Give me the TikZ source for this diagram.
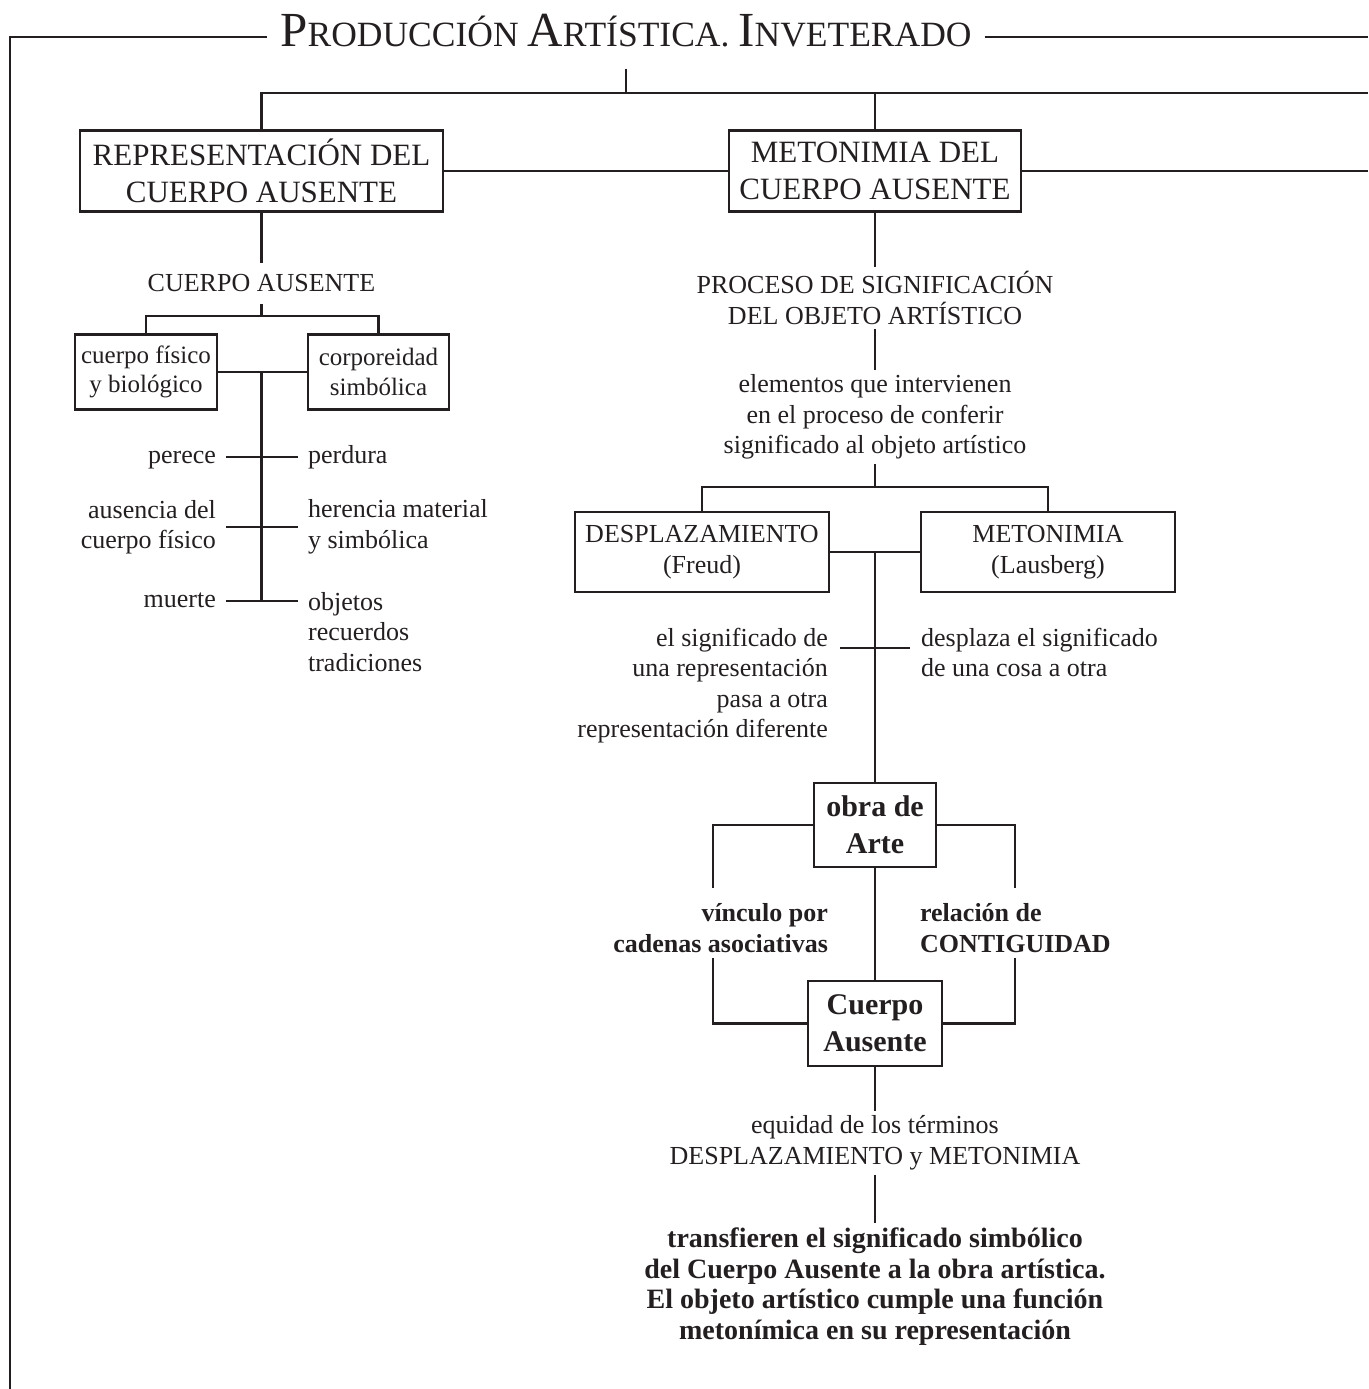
\documentclass[tikz,border=0pt]{standalone}
\usepackage{fontspec}
\setmainfont{Liberation Serif}
\usepackage{tikz}
\definecolor{ink}{RGB}{35,31,32}
\newcommand{\capa}[1]{{\fontsize{49}{49}\selectfont #1}}

\begin{document}
\begin{tikzpicture}[x=1pt,y=-1pt,line width=2.2pt,color=ink,
 box/.style={rectangle,draw,align=center,inner sep=0pt,font=\fontsize{26}{30.5}\selectfont},
 smallbox/.style={box,font=\fontsize{25}{29.5}\selectfont},
 bigbox/.style={box,font=\fontsize{31}{37}\selectfont},
 artbox/.style={box,font=\fontsize{30}{37}\selectfont\bfseries},
 txt/.style={align=center,font=\fontsize{26}{30.5}\selectfont},
 lbl/.style={inner xsep=9pt,inner ysep=0pt,font=\fontsize{26}{30.5}\selectfont},
 onelbl/.style={lbl,text height=12pt,text depth=0pt},
 blbl/.style={inner sep=0pt,font=\fontsize{26}{30.5}\selectfont\bfseries}]
\useasboundingbox (0,0) rectangle (1368,1389);
 \node[anchor=base,inner xsep=12pt,inner ysep=20pt,font=\fontsize{35.5}{35.5}\selectfont] (title) at (626,47) {\capa{P}RODUCCIÓN \capa{A}RTÍSTICA. \capa{I}NVETERADO};
 \coordinate (tl) at (10,37);
 \coordinate (bl) at (10,1389);
 \coordinate (tr) at (1368,37);
 \coordinate (hr) at (1368,93);
 \coordinate (mr) at (1368,171);

 \node[bigbox,minimum width=363pt,minimum height=81pt] (repr) at (261.5,171) {REPRESENTACIÓN DEL\\CUERPO AUSENTE};
 \node[bigbox,minimum width=292pt,minimum height=81pt] (meto) at (875,171) {METONIMIA DEL\\CUERPO AUSENTE};

 \node[txt,inner ysep=11pt] (ca) at (261.5,283.5) {CUERPO AUSENTE};
 \coordinate (caj) at (261.5,316);
 \node[smallbox,minimum width=142pt,minimum height=75pt] (fis) at (146,372) {cuerpo físico\\y biológico};
 \node[smallbox,minimum width=141pt,minimum height=75pt] (corp) at (378.5,372) {corporeidad\\simbólica};
 \coordinate (spt) at (261.5,372);
 \coordinate (spb) at (261.5,601);
 \node[onelbl,anchor=east] (perece) at (226,457) {perece};
 \node[onelbl,anchor=west] (perdura) at (298,457) {perdura};
 \node[lbl,anchor=east,align=right] (ausencia) at (226,527) {ausencia del\\cuerpo físico};
 \node[lbl,anchor=west,align=left] (herencia) at (298,527) {herencia material\\y simbólica};
 \node[onelbl,anchor=east] (muerte) at (226,601) {muerte};
 \node[lbl,anchor=north west,align=left] (objetos) at (298,591) {objetos\\recuerdos\\tradiciones};

 \node[txt] (proc) at (875,298) {PROCESO DE SIGNIFICACIÓN\\DEL OBJETO ARTÍSTICO};
 \node[txt] (elem) at (875,417) {elementos que intervienen\\en el proceso de conferir\\significado al objeto artístico};
 \coordinate (ej) at (875,487);
 \node[box,minimum width=254pt,minimum height=80pt] (desp) at (702,552) {DESPLAZAMIENTO\\(Freud)};
 \node[box,minimum width=254pt,minimum height=80pt] (metn) at (1048,552) {METONIMIA\\(Lausberg)};
 \coordinate (dj) at (875,552);
 \node[lbl,anchor=north east,align=right,inner xsep=11pt] (signl) at (840,627) {el significado de\\una representación\\pasa a otra\\representación diferente};
 \node[lbl,anchor=north west,align=left,inner xsep=10pt] (signr) at (910,627) {desplaza el significado\\de una cosa a otra};
 \coordinate (tk) at (875,648);

 \node[artbox,minimum width=122pt,minimum height=84pt] (obra) at (875,825) {obra de\\Arte};
 \node[artbox,minimum width=134pt,minimum height=85pt] (cuer) at (875,1023.5) {Cuerpo\\Ausente};
 \coordinate (lvt) at (713,888);
 \coordinate (lvb) at (713,958);
 \coordinate (rvt) at (1015,888);
 \coordinate (rvb) at (1015,958);
 \node[blbl,anchor=east,align=right] (vinc) at (829,928) {vínculo por\\cadenas asociativas};
 \node[blbl,anchor=west,align=left] (rel) at (919,928) {relación de\\CONTIGUIDAD};

 \node[txt] (equi) at (875,1143) {equidad de los términos\\DESPLAZAMIENTO y METONIMIA};
 \node[txt,font=\fontsize{28}{30.5}\selectfont\bfseries] (trans) at (875,1286.5) {transfieren el significado simbólico\\del Cuerpo Ausente a la obra artística.\\El objeto artístico cumple una función\\metonímica en su representación};

 \draw (bl) -- (tl) -- (tl -| title.west);
 \draw (title.east |- tl) -- (tr);
 \draw (title.south) -- (title.south |- hr);
 \draw (repr.north) |- (hr);
 \draw (meto.north) -- (meto.north |- hr);
 \draw (repr) -- (meto);
 \draw (meto) -- (mr);

 \draw (repr) -- (ca);
 \draw (ca) -- (caj);
 \draw (fis.north) |- (caj) -| (corp.north);
 \draw (fis) -- (corp);
 \draw (spt) -- (spb);
 \draw (perece) -- (perdura);
 \draw (ausencia) -- (herencia);
 \draw (muerte) -- (muerte -| objetos.west);

 \draw (meto) -- (proc);
 \draw (proc) -- (elem);
 \draw (elem) -- (ej);
 \draw (desp.north) |- (ej) -| (metn.north);
 \draw (desp) -- (metn);
 \draw (dj) -- (obra);
 \draw (tk -| signl.east) -- (tk -| signr.west);

 \draw (obra.west) -| (lvt);
 \draw (lvb) |- (cuer.west);
 \draw (obra.east) -| (rvt);
 \draw (rvb) |- (cuer.east);
 \draw (obra) -- (cuer);
 \draw (cuer) -- (equi);
 \draw (equi) -- (trans);
\end{tikzpicture}
\end{document}
